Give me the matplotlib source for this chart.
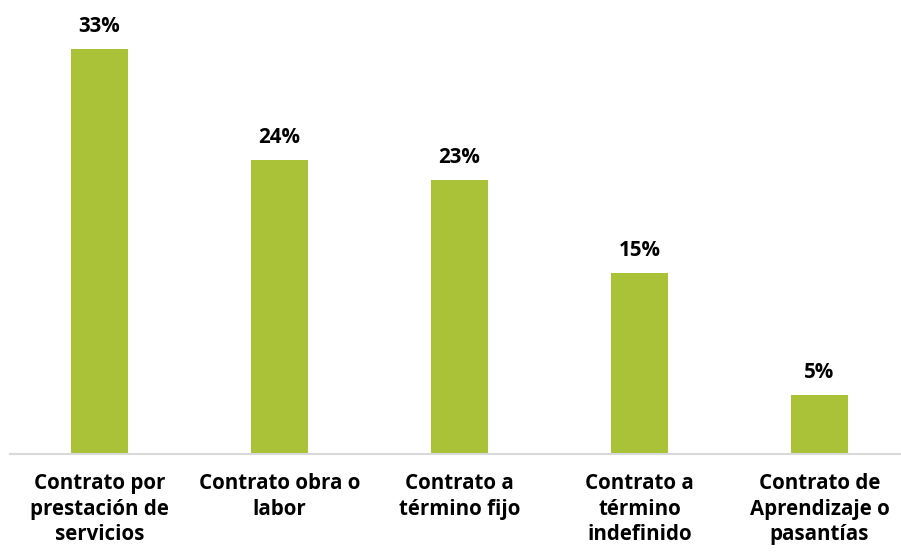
import matplotlib
matplotlib.use("Agg")
import matplotlib.pyplot as plt

categorias = [
    "Contrato por\nprestación de\nservicios",
    "Contrato obra o\nlabor",
    "Contrato a\ntérmino fijo",
    "Contrato a\ntérmino\nindefinido",
    "Contrato de\nAprendizaje o\npasantías",
]
porcentajes = [33.4, 24.2, 22.6, 14.9, 4.9]

plt.rcParams['font.family'] = ['Open Sans', 'DejaVu Sans']

fig = plt.figure(figsize=(9.01, 5.55), dpi=100)
ax = fig.add_axes([9.5 / 901, 101 / 555, 900 / 901, 437 / 555])

x = range(len(categorias))
bars = ax.bar(x, porcentajes, width=0.317, color="#a9c238")

for b, v in zip(bars, porcentajes):
    ax.annotate(f"{round(v)}%", (b.get_x() + b.get_width() / 2, v),
                xytext=(0, 12), textcoords="offset pixels",
                ha="center", va="bottom", fontsize=14.8, fontweight="bold",
                color="black")

ax.set_xlim(-0.5, 4.5)
ax.set_ylim(0, 36)
ax.set_xticks(list(x))
ax.set_xticklabels(categorias, fontsize=14.8, fontweight="bold", linespacing=1.28)
ax.tick_params(axis="x", length=0, pad=14)
ax.set_yticks([])
for s in ["top", "right", "left"]:
    ax.spines[s].set_visible(False)
ax.spines["bottom"].set_color("#d9d9d9")
ax.spines["bottom"].set_linewidth(1.5)

fig.savefig("out.png", dpi=100)
